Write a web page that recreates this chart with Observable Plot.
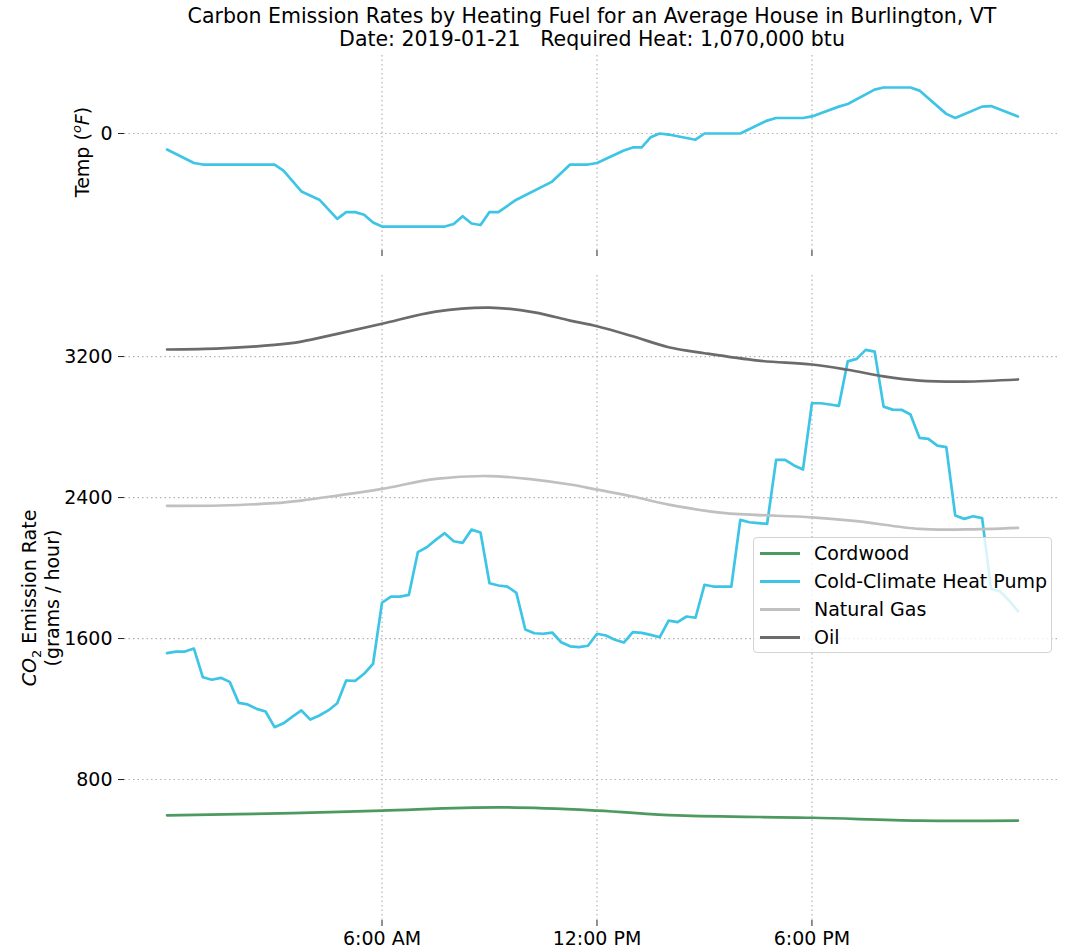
<!DOCTYPE html>
<html>
<head>
<meta charset="utf-8">
<script src="https://cdn.jsdelivr.net/npm/d3@7"></script>
<script src="https://cdn.jsdelivr.net/npm/@observablehq/plot@0.6"></script>
<style>
  body { margin: 0; background: #fff; font-family: "DejaVu Sans", sans-serif; color: #000; }
  #wrap { position: relative; width: 1068px; height: 951px; overflow: hidden; background: #fff; }
  .abs { position: absolute; }
  #title { left: 92px; top: 5px; width: 1000px; text-align: center; font-size: 20.5px; line-height: 23px; white-space: pre; }
  .ylab { font-size: 19px; text-align: center; white-space: nowrap; transform: translate(-50%, -50%) rotate(-90deg); }
  .ylab .ln { height: 23px; line-height: 23px; }
  .ylab sub, .ylab sup { font-size: 13px; line-height: 0; }
  #legend { left: 753px; top: 537px; width: 297px; height: 114px; border: 1px solid #d4d4d4; border-radius: 4px;
            background: rgba(255,255,255,0.8); font-size: 19px; box-sizing: content-box; }
  .lrow { position: absolute; left: 0; height: 28px; width: 100%; }
  .lsw { position: absolute; left: 6px; top: 13px; width: 40px; height: 3px; }
  .ltx { position: absolute; left: 60px; top: 0; line-height: 28px; white-space: nowrap; }
</style>
</head>
<body>
<div id="wrap">
  <div id="title" class="abs">Carbon Emission Rates by Heating Fuel for an Average House in Burlington, VT
Date: 2019-01-21   Required Heat: 1,070,000 btu</div>
  <div id="top" class="abs" style="left:0;top:50px;"></div>
  <div id="bot" class="abs" style="left:0;top:265px;"></div>
  <div class="abs ylab" style="left:82px;top:152px;"><div class="ln">Temp (<sup><i>o</i></sup><i>F</i>)</div></div>
  <div class="abs ylab" style="left:41px;top:598px;"><div class="ln"><i>CO</i><sub>2</sub> Emission Rate</div><div class="ln">(grams / hour)</div></div>
  <div id="legend" class="abs"></div>
</div>
<script>
// ---- data ----
const seriesNames = ["Cordwood", "Cold-Climate Heat Pump", "Natural Gas", "Oil"];
const seriesColors = ["#4c9a5f", "#3ec5e6", "#c0c0c0", "#6b6b6b"];

const xTickValues = [6, 12, 18];
const xTickLabels = ["6:00 AM", "12:00 PM", "6:00 PM"];
const tempTickValues = [0];
const emisTickValues = [800, 1600, 2400, 3200];

// temperature (°F), hour of day
const tempHours = [0, 0.75, 1, 3, 3.25, 3.75, 4.25, 4.75, 5, 5.25, 5.5, 5.75, 6, 7.75, 8, 8.25, 8.5, 8.75, 9, 9.25,
  9.75, 10.75, 11.25, 11.75, 12, 12.75, 13, 13.25, 13.5, 13.75, 14, 14.75, 15, 16, 16.75, 17, 17.75, 18, 18.75, 19,
  19.75, 20, 20.75, 21, 21.75, 22, 22.75, 23, 23.75];
const tempValues = [-3.1, -5.7, -6, -6, -7.2, -11.2, -12.8, -16.5, -15.2, -15.2, -15.7, -17.2, -18, -18, -17.5, -16, -17.4, -17.7, -15.2, -15.2,
  -12.8, -9.3, -6, -6, -5.7, -3.3, -2.7, -2.7, -0.7, 0, -0.2, -1.2, 0, 0, 2.5, 3, 3, 3.3, 5.2, 5.7,
  8.5, 8.9, 8.9, 8.3, 3.8, 3, 5.2, 5.3, 3.3];

// heat pump, every 15 minutes from 0:00
const heatPumpValues = [
  1517, 1526, 1526, 1543, 1380, 1366, 1377, 1354, 1235, 1226, 1201, 1186,
  1097, 1119, 1157, 1192, 1140, 1163, 1192, 1233, 1362, 1360, 1400, 1457,
  1803, 1838, 1838, 1848, 2090, 2118, 2160, 2198, 2152, 2143, 2218, 2202,
  1914, 1901, 1895, 1859, 1651, 1630, 1627, 1634, 1579, 1556, 1551, 1559,
  1627, 1617, 1593, 1577, 1636, 1632, 1621, 1607, 1702, 1693, 1725, 1718,
  1905, 1895, 1895, 1895, 2273, 2260, 2255, 2251, 2614, 2614, 2582, 2559,
  2935, 2935, 2928, 2920, 3173, 3187, 3238, 3228, 2916, 2899, 2898, 2871,
  2739, 2733, 2695, 2686, 2298, 2279, 2294, 2283, 1882, 1868, 1816, 1755];
const heatPumpHours = heatPumpValues.map((_, i) => i * 0.25);

const oilHours = [0, 1.5, 3, 3.75, 4.75, 6, 7.5, 9, 10.25, 11.25, 12, 13, 14, 15, 16.5, 18, 19, 20, 21, 22.25, 23.75];
const oilValues = [3240, 3247, 3266, 3285, 3329, 3386, 3455, 3478, 3451, 3404, 3372, 3315, 3253, 3219, 3177, 3155, 3125, 3088, 3064, 3058, 3070];

const gasHours = [0, 1.5, 3, 3.75, 4.75, 6, 7.5, 9, 10.25, 11.25, 12, 13, 14, 15.5, 18, 19.25, 21, 22.25, 23.75];
const gasValues = [2353, 2355, 2368, 2383, 2411, 2449, 2506, 2522, 2502, 2474, 2445, 2406, 2360, 2313, 2288, 2266, 2222, 2219, 2228];

const woodHours = [0, 3.5, 6, 9.25, 12, 14.25, 18, 21, 23.75];
const woodValues = [597, 609, 624, 642, 624, 596, 583, 567, 567];

// ---- build tables ----
const temp = tempHours.map((h, i) => ({h, v: tempValues[i]}));
const wood = woodHours.map((h, i) => ({h, v: woodValues[i]}));
const hp = heatPumpHours.map((h, i) => ({h, v: heatPumpValues[i]}));
const gas = gasHours.map((h, i) => ({h, v: gasValues[i]}));
const oil = oilHours.map((h, i) => ({h, v: oilValues[i]}));

const xDomain = [-1.1875, 24.9375];
const gridStyle = {stroke: "#b3b3b3", strokeOpacity: 1, strokeWidth: 1.2, strokeDasharray: "1.5,3"};
const commonStyle = {fontFamily: "DejaVu Sans", fontSize: "19px", color: "#000", background: "transparent", overflow: "visible"};

const topPlot = Plot.plot({
  width: 1068, height: 210,
  marginLeft: 124, marginRight: 8, marginTop: 5, marginBottom: 10,
  style: commonStyle,
  x: {domain: xDomain},
  y: {domain: [-22.63, 15.09]},
  marks: [
    Plot.gridX(xTickValues, gridStyle),
    Plot.gridY(tempTickValues, gridStyle),
    Plot.axisX(xTickValues, {tickSize: 6, tickFormat: () => "", label: null, stroke: "#222"}),
    Plot.axisY(tempTickValues, {tickSize: 6, tickPadding: 6, label: null, stroke: "#222"}),
    Plot.line(temp, {x: "h", y: "v", stroke: seriesColors[1], strokeWidth: 2.7})
  ]
});
document.getElementById("top").appendChild(topPlot);

const botPlot = Plot.plot({
  width: 1068, height: 686,
  marginLeft: 124, marginRight: 8, marginTop: 10, marginBottom: 31,
  style: commonStyle,
  x: {domain: xDomain},
  y: {domain: [0, 3660]},
  marks: [
    Plot.gridX(xTickValues, gridStyle),
    Plot.gridY(emisTickValues, gridStyle),
    Plot.axisX(xTickValues, {tickSize: 6, tickPadding: 5, label: null, stroke: "#222",
      tickFormat: (d) => xTickLabels[xTickValues.indexOf(d)]}),
    Plot.axisY(emisTickValues, {tickSize: 6, tickPadding: 6, label: null, stroke: "#222", tickFormat: (d) => String(d)}),
    Plot.line(wood, {x: "h", y: "v", stroke: seriesColors[0], strokeWidth: 2.7, curve: "catmull-rom"}),
    Plot.line(hp, {x: "h", y: "v", stroke: seriesColors[1], strokeWidth: 2.7}),
    Plot.line(gas, {x: "h", y: "v", stroke: seriesColors[2], strokeWidth: 2.7, curve: "catmull-rom"}),
    Plot.line(oil, {x: "h", y: "v", stroke: seriesColors[3], strokeWidth: 2.7, curve: "catmull-rom"})
  ]
});
document.getElementById("bot").appendChild(botPlot);

// legend
const leg = document.getElementById("legend");
seriesNames.forEach((name, i) => {
  const row = document.createElement("div");
  row.className = "lrow";
  row.style.top = (1 + i * 28) + "px";
  row.innerHTML = `<div class="lsw" style="background:${seriesColors[i]}"></div><div class="ltx">${name}</div>`;
  leg.appendChild(row);
});
</script>
</body>
</html>
